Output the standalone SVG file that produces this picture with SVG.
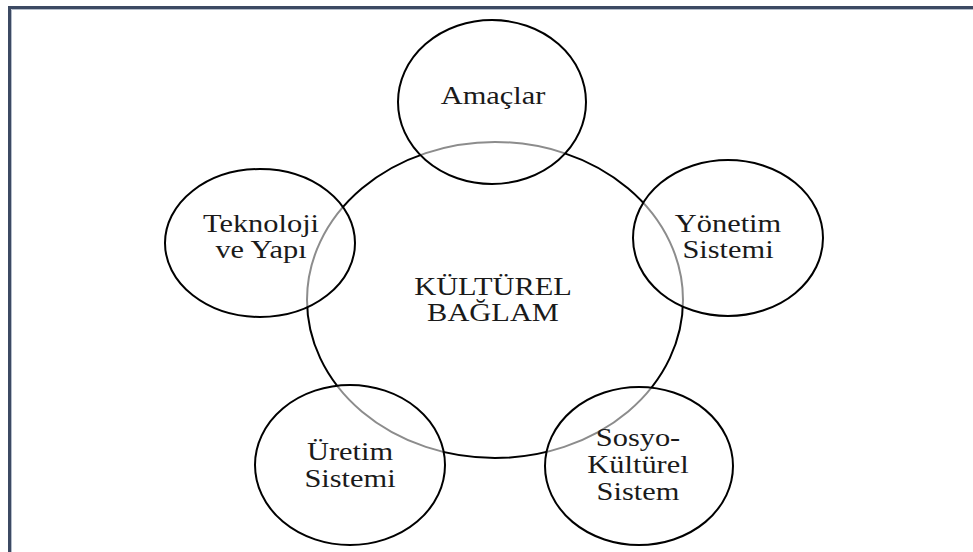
<svg xmlns="http://www.w3.org/2000/svg" width="973" height="552" viewBox="0 0 973 552">
<style>
.frame{fill:none;stroke:#3c4a63;stroke-width:3}
.frame2{fill:none;stroke:#b4bdca;stroke-width:1}
.big{fill:none;stroke:#000;stroke-width:2}
.node{fill:#fff;fill-opacity:0.55;stroke:#000;stroke-width:2}
.t{font-family:'Liberation Serif','DejaVu Serif',serif;font-size:26px;fill:#1a1a1a;text-anchor:middle}
</style>
<rect width="973" height="552" fill="#fff"/>
<path class="frame" d="M9.5 552 V7.5 H973"/>
<path class="frame2" d="M11.5 552 V9.5 H973"/>
<g id="kulturel-baglam">
<ellipse class="big" cx="495" cy="300" rx="188" ry="158"/>
<text class="t" transform="translate(493,295) scale(1.17,1)">KÜLTÜREL</text>
<text class="t" transform="translate(493,321) scale(1.17,1)">BAĞLAM</text>
</g>
<g id="amaclar">
<ellipse class="node" cx="492" cy="102" rx="94" ry="82"/>
<text class="t" transform="translate(493,104) scale(1.17,1)">Amaçlar</text>
</g>
<g id="yonetim-sistemi">
<ellipse class="node" cx="728" cy="238" rx="95" ry="78"/>
<text class="t" transform="translate(728,232) scale(1.17,1)">Yönetim</text>
<text class="t" transform="translate(728,258) scale(1.17,1)">Sistemi</text>
</g>
<g id="teknoloji-ve-yapi">
<ellipse class="node" cx="260" cy="243" rx="95" ry="74"/>
<text class="t" transform="translate(261,232) scale(1.17,1)">Teknoloji</text>
<text class="t" transform="translate(261,258) scale(1.17,1)">ve Yapı</text>
</g>
<g id="uretim-sistemi">
<ellipse class="node" cx="350" cy="465" rx="95" ry="80"/>
<text class="t" transform="translate(350,460) scale(1.17,1)">Üretim</text>
<text class="t" transform="translate(350,487) scale(1.17,1)">Sistemi</text>
</g>
<g id="sosyo-kulturel-sistem">
<ellipse class="node" cx="639" cy="466" rx="94" ry="79"/>
<text class="t" transform="translate(638,446) scale(1.17,1)">Sosyo-</text>
<text class="t" transform="translate(638,473) scale(1.17,1)">Kültürel</text>
<text class="t" transform="translate(638,500) scale(1.17,1)">Sistem</text>
</g>
<g id="connectors"></g>
</svg>
